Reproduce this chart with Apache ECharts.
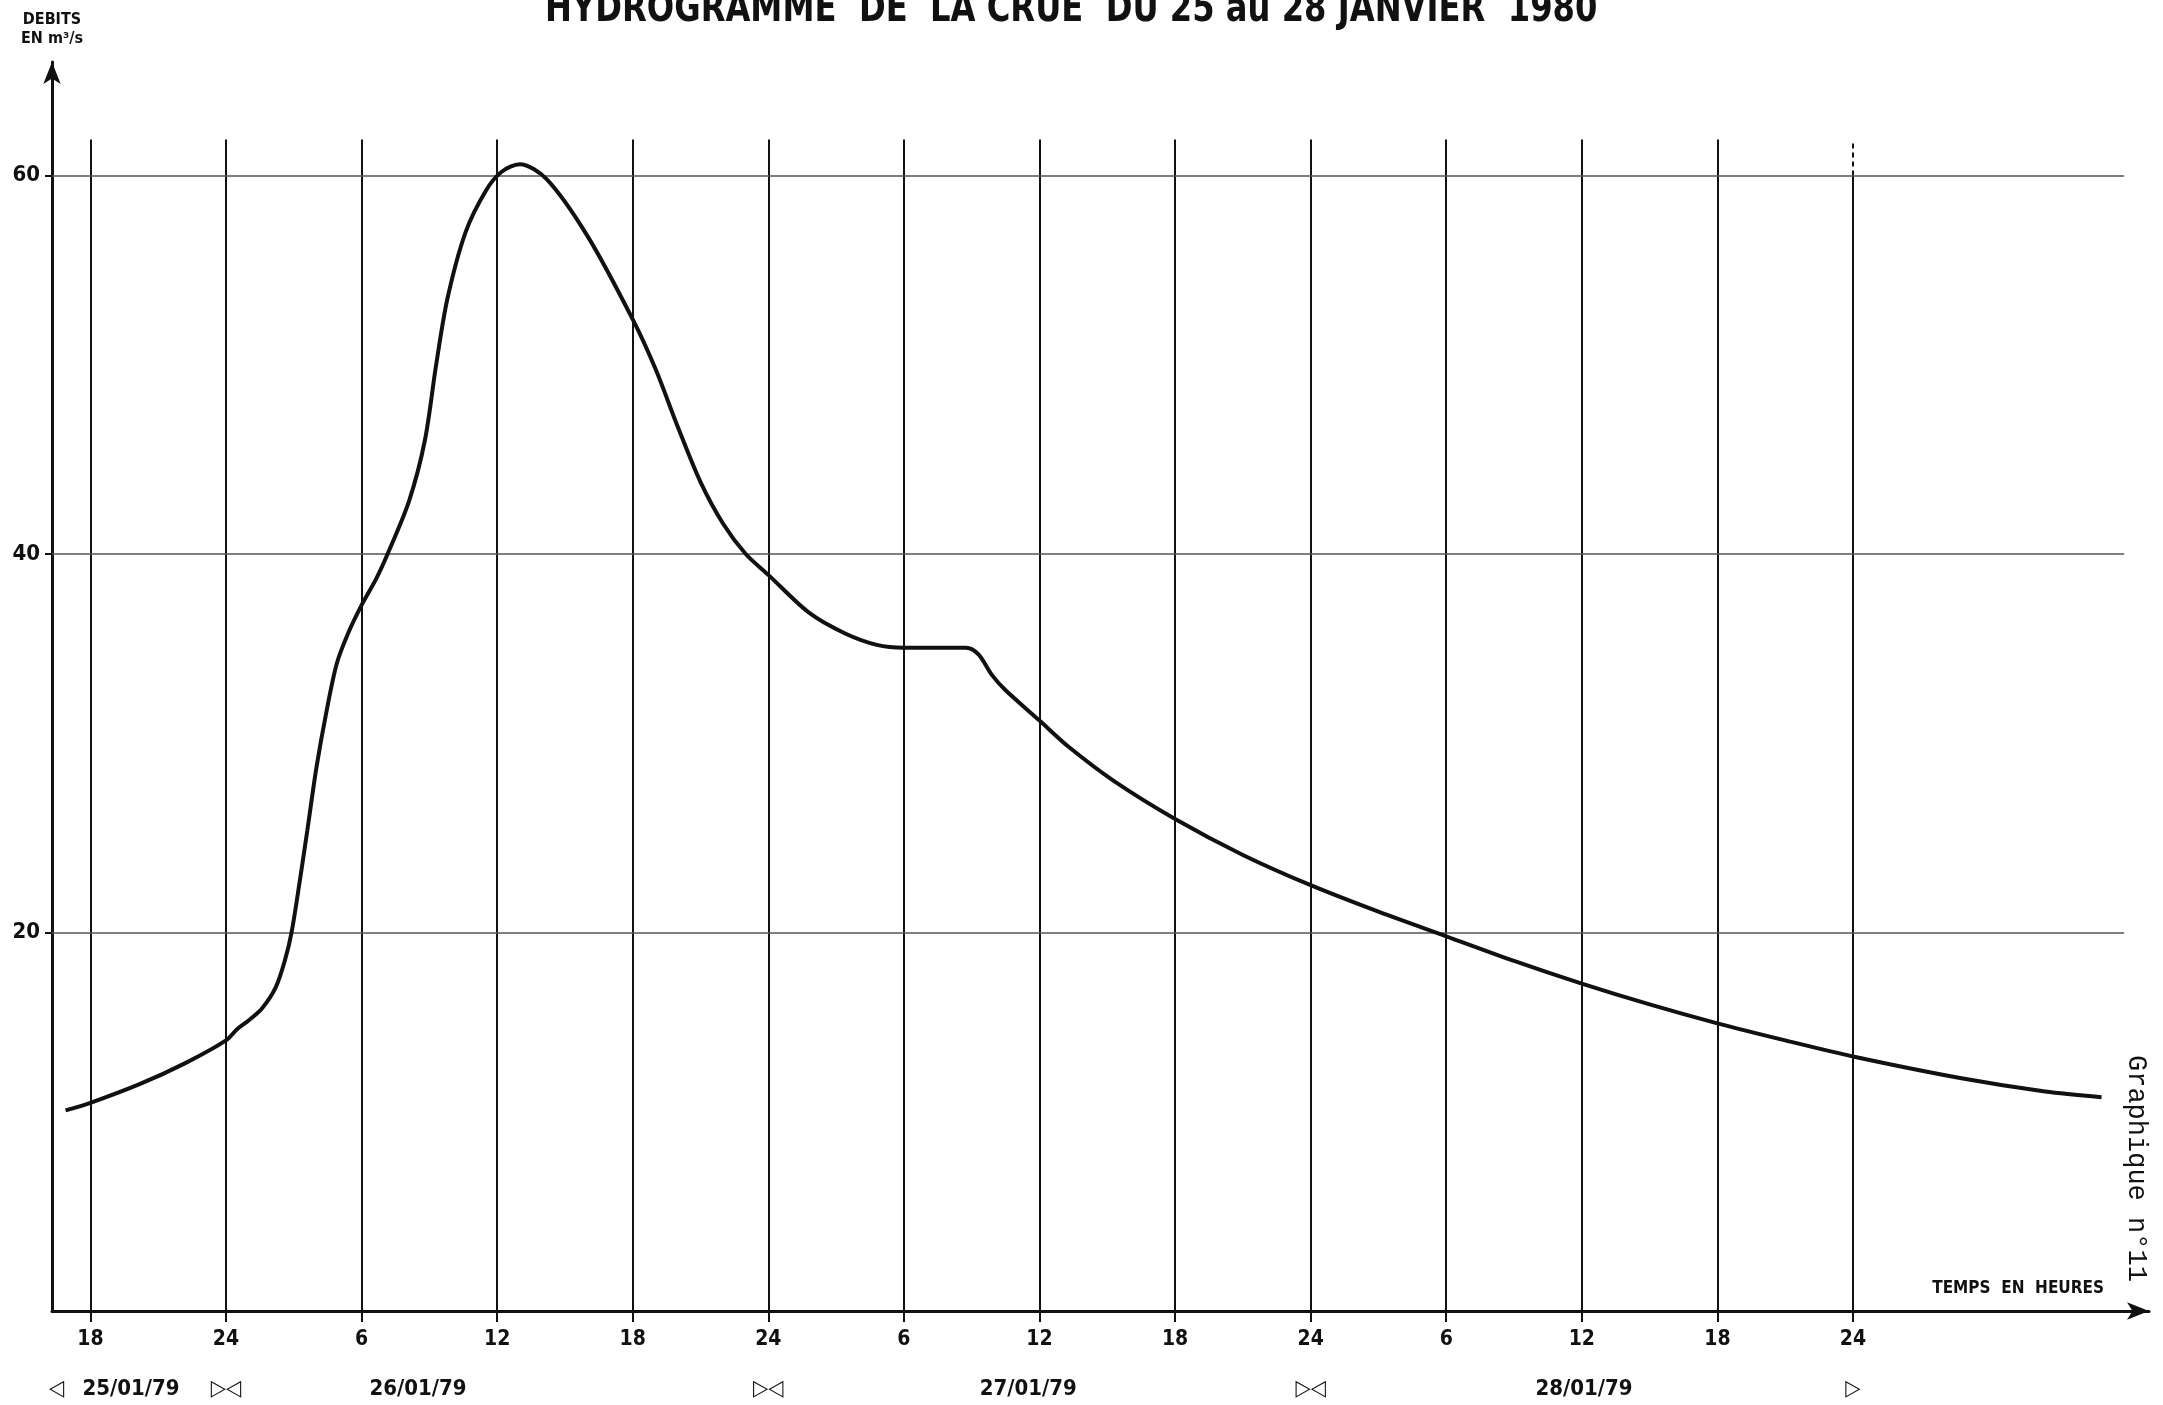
<!DOCTYPE html>
<html>
<head>
<meta charset="utf-8">
<title>Hydrogramme de la crue</title>
<script src="https://cdn.jsdelivr.net/npm/echarts@6/dist/echarts.min.js"></script>
<style>
    html, body { margin: 0; padding: 0; background: #fff; }
    #chart { width: 2163px; height: 1405px; }
</style>
</head>
<body>
<div id="chart"></div>
<script>
// heures comptées depuis le 25/01 à 0h
const hours = [16.9, 18, 20.2, 22.2, 24, 24.5, 25.0, 25.6, 26.2, 26.6, 26.9, 27.25, 27.6, 28.0,
    28.45, 28.9, 29.4, 30.0, 30.65, 31.15, 32.1, 32.8, 33.3, 33.8, 34.6, 35.5, 36.2, 37.0, 38.2,
    40.0, 42, 43.0, 44.0, 45.0, 46.0, 47.0, 48, 49.8, 51.4, 52.8, 54, 56.75, 57.3, 57.9, 58.5,
    60, 61.3, 63.3, 66, 69, 72, 75, 78, 81, 84, 87, 90, 93, 96, 100.8, 104.5, 107]
// débits en m3/s
const debits = [10.6, 11.0, 12.0, 13.1, 14.3, 14.9, 15.35, 16.0, 17.1, 18.5, 20.0, 22.6, 25.4, 28.7,
    31.7, 34.2, 35.8, 37.3, 38.7, 40.0, 42.8, 46.0, 50.0, 53.5, 57.0, 59.2, 60.2, 60.6, 59.8,
    56.8, 52.4, 49.8, 46.7, 43.8, 41.6, 40.0, 38.9, 36.9, 35.8, 35.2, 35.05, 35.05, 34.7, 33.6, 32.8,
    31.2, 29.8, 28.0, 26.0, 24.1, 22.5, 21.1, 19.8, 18.5, 17.3, 16.2, 15.2, 14.3, 13.45, 12.3, 11.6, 11.3]

const tickHours = [18, 24, 30, 36, 42, 48, 54, 60, 66, 72, 78, 84, 90, 96]
const yTicks = [20, 40, 60]
const dateHours = [16.5, 19.8, 24, 32.5, 48, 59.5, 72, 84.1, 96]
const dateTexts = ['◁', '25/01/79', '▷◁', '26/01/79', '▷◁', '27/01/79', '▷◁', '28/01/79', '▷']

const xMin = 16.3
const xMax = 109.1
const yMax = 66
const vLineTop = 61.9
const hLineEnd = 108

const narrow = "'Liberation Sans Narrow', 'DejaVu Sans Condensed', 'Liberation Sans', sans-serif"

let myChart = echarts.init(document.getElementById('chart'))

// quadrillage
let gridLines = []
tickHours.forEach((h, i) => {
    if (i === tickHours.length - 1) {
        gridLines.push([{ coord: [h, 0] }, { coord: [h, 60] }])
        gridLines.push([{ coord: [h, 60], lineStyle: { type: [5, 4] } }, { coord: [h, vLineTop] }])
    } else {
        gridLines.push([{ coord: [h, 0] }, { coord: [h, vLineTop] }])
    }
})
yTicks.forEach(v => {
    gridLines.push([{ coord: [xMin, v], lineStyle: { width: 1.5, color: '#555' } }, { coord: [hLineEnd, v] }])
})

myChart.setOption({
    backgroundColor: '#fff',
    animation: false,
    grid: { left: 52, right: 14, top: 62, bottom: 94 },
    xAxis: [{
        type: 'value',
        min: xMin,
        max: xMax,
        splitLine: { show: false },
        axisLine: {
            lineStyle: { color: '#111', width: 3 },
            symbol: ['none', 'arrow'],
            symbolSize: [13, 22]
        },
        axisTick: {
            customValues: tickHours,
            length: 11,
            lineStyle: { color: '#111', width: 2 }
        },
        axisLabel: {
            customValues: tickHours,
            margin: 18,
            color: '#111',
            fontSize: 21,
            fontWeight: 'bold',
            fontFamily: narrow,
            formatter: v => (v % 24 === 0 ? '24' : String(v % 24))
        },
        name: 'TEMPS  EN  HEURES',
        nameLocation: 'end',
        nameGap: -45,
        nameTextStyle: {
            align: 'right',
            verticalAlign: 'bottom',
            padding: [0, 0, 14, 0],
            color: '#111',
            fontSize: 17,
            fontWeight: 'bold',
            fontFamily: narrow
        }
    }, {
        type: 'value',
        position: 'bottom',
        offset: 67,
        min: xMin,
        max: xMax,
        splitLine: { show: false },
        axisLine: { show: false },
        axisTick: { show: false },
        axisLabel: {
            customValues: dateHours,
            margin: 0,
            color: '#111',
            fontSize: 22,
            fontWeight: 'bold',
            fontFamily: narrow,
            formatter: v => dateTexts[dateHours.indexOf(v)]
        }
    }],
    yAxis: {
        type: 'value',
        min: 0,
        max: yMax,
        splitLine: { show: false },
        axisLine: {
            lineStyle: { color: '#111', width: 3 },
            symbol: ['none', 'arrow'],
            symbolSize: [13, 22]
        },
        axisTick: {
            customValues: yTicks,
            length: 7,
            lineStyle: { color: '#111', width: 2 }
        },
        axisLabel: {
            customValues: yTicks,
            margin: 12,
            color: '#111',
            fontSize: 22,
            fontWeight: 'bold',
            fontFamily: narrow
        },
        name: 'DEBITS\nEN m³/s',
        nameLocation: 'end',
        nameGap: 14,
        nameTextStyle: {
            align: 'center',
            color: '#111',
            fontSize: 16,
            fontWeight: 'bold',
            lineHeight: 19,
            fontFamily: narrow
        }
    },
    graphic: [{
        type: 'text',
        left: 545,
        top: -9,
        scaleX: 0.895,
        style: {
            text: 'HYDROGRAMME  DE  LA CRUE  DU 25 au 28 JANVIER  1980',
            fill: '#111',
            font: "bold 40px 'Liberation Sans Narrow', 'DejaVu Sans Condensed', 'Liberation Sans', sans-serif"
        }
    }, {
        type: 'text',
        x: 2150,
        y: 1055,
        rotation: -Math.PI / 2,
        style: {
            text: 'Graphique n°11',
            fill: '#111',
            font: "27px 'Liberation Mono', 'DejaVu Sans Mono', monospace"
        }
    }],
    series: [{
        type: 'line',
        data: hours.map((h, i) => [h, debits[i]]),
        smooth: 0.3,
        symbol: 'none',
        lineStyle: { color: '#111', width: 4 },
        markLine: {
            silent: true,
            symbol: 'none',
            label: { show: false },
            lineStyle: { color: '#111', width: 2, type: 'solid' },
            data: gridLines
        },
        z: 5
    }]
})
window.onresize = () => myChart.resize()
</script>
</body>
</html>
